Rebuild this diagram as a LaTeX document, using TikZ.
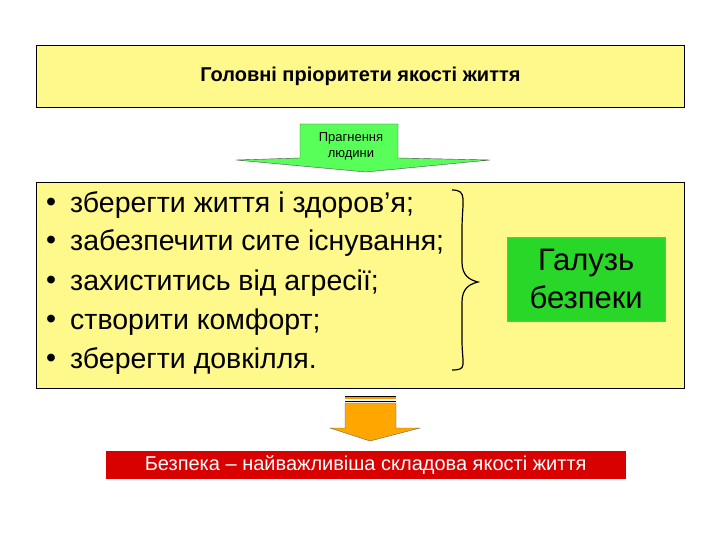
\documentclass[tikz,border=0pt]{standalone}
\usepackage{fontspec}
\setmainfont{Liberation Sans}
\definecolor{galgreen}{RGB}{40,215,40}
\begin{document}
\begin{tikzpicture}[x=1pt,y=-1pt,
  ybox/.style={draw=black,fill=yellow!45!white,line width=0.8pt},
  item/.style={anchor=west,font=\fontsize{28.5}{30}\selectfont,inner sep=0pt}]
\useasboundingbox (0,0) rectangle (720,540);
\node[ybox,minimum width=648,minimum height=62,inner sep=0pt,anchor=north west,font=\fontsize{20}{24}\selectfont\bfseries] (title) at (36,45) {Головні пріоритети якості життя};
\node[ybox,minimum width=648,minimum height=206,inner sep=0pt,anchor=north west] (main) at (36,182) {};
% green arrow
\draw[fill=green!65!white,draw=black!70] (300,124) -- (398,124) -- (398,158) -- (490,160) -- (366,172) -- (236,160) -- (300,158) -- cycle;
\node[font=\fontsize{13}{13}\selectfont,align=center] (pr) at (351,146) {Прагнення\\[3pt]людини};
% items
\foreach \y/\t in {205/{зберегти життя і здоров’я;},243/{забезпечити сите існування;},283/{захиститись від агресії;},322/{створити комфорт;},361/{зберегти довкілля.}}{
  \node[item] at (46,\y) {•};
  \node[item] at (70,\y) {\t};
}
\draw[line width=1.2pt] (452,190) .. controls (468,190) and (462,200) .. (462,230) -- (462,262) .. controls (462,276) and (470,280) .. (478,282) .. controls (470,284) and (462,288) .. (462,302) -- (462,340) .. controls (462,365) and (468,370) .. (452,370);
\node[draw=black!40,fill=galgreen,minimum width=158,minimum height=84,inner sep=0pt,anchor=north west,align=center,font=\fontsize{31}{38}\selectfont] (gal) at (507,237) {Галузь\\безпеки};
% orange arrow
\fill[orange!80!yellow] (345,396) rectangle (396,399);
\draw[line width=1pt] (345,396) -- (396,396);
\draw[line width=1pt] (345,401) -- (396,401);
\draw[fill=orange!70!yellow,draw=black!60] (345,403) -- (396,403) -- (396,428) -- (420,428) -- (370,441) -- (330,428) -- (345,428) -- cycle;
\node[fill=red!85!black,draw=white,minimum width=521,minimum height=29,inner sep=0pt,anchor=north west,text=white,font=\fontsize{20}{24}\selectfont] (bez) at (105,450) {Безпека -- найважливіша складова якості життя};
\end{tikzpicture}
\end{document}
